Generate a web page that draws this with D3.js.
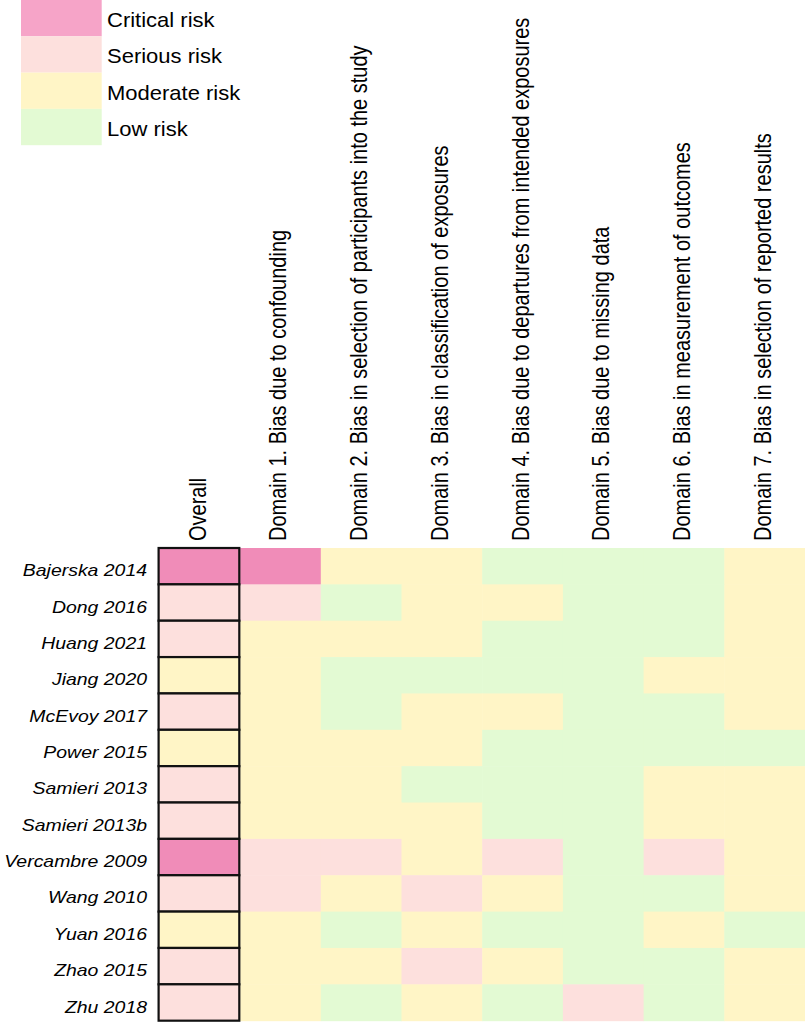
<!DOCTYPE html>
<html>
<head>
<meta charset="utf-8">
<script src="https://cdn.jsdelivr.net/npm/d3@7"></script>
<style>
html,body{margin:0;padding:0;background:#fff;}
svg{display:block;}
text{font-family:"Liberation Sans",Arial,sans-serif;fill:#000;}
</style>
</head>
<body>
<svg id="chart" width="805" height="1022"></svg>
<script>
const studies = ["Bajerska 2014","Dong 2016","Huang 2021","Jiang 2020","McEvoy 2017","Power 2015","Samieri 2013","Samieri 2013b","Vercambre 2009","Wang 2010","Yuan 2016","Zhao 2015","Zhu 2018"];
const domains = ["Overall",
  "Domain 1. Bias due to confounding",
  "Domain 2. Bias in selection of participants into the study",
  "Domain 3. Bias in classification of exposures",
  "Domain 4. Bias due to departures from intended exposures",
  "Domain 5. Bias due to missing data",
  "Domain 6. Bias in measurement of outcomes",
  "Domain 7. Bias in selection of reported results"];
const levels = ["Critical risk","Serious risk","Moderate risk","Low risk"];
// C = critical, S = serious, M = moderate, L = low ; order: Overall, D1..D7
const ratings = [
  ["C","C","M","M","L","L","L","M"],
  ["S","S","L","M","M","L","L","M"],
  ["S","M","M","M","L","L","L","M"],
  ["M","M","L","L","L","L","M","M"],
  ["S","M","L","M","M","L","L","M"],
  ["M","M","M","M","L","L","L","L"],
  ["S","M","M","L","L","L","M","M"],
  ["S","M","M","M","L","L","M","M"],
  ["C","S","S","M","S","L","S","M"],
  ["S","S","M","S","M","L","L","M"],
  ["M","M","L","M","L","L","M","L"],
  ["S","M","M","S","M","L","L","M"],
  ["S","M","L","M","L","S","L","M"]
];
const codes = ["C","S","M","L"];
const cellColors = ["#f08cb8","#fde0dd","#fff5c6","#e3fad3"];
const legendColors = ["#f6a4c8","#fde0dd","#fff5c6","#e3fad3"];

const svg = d3.select("#chart");
const colW = 80.7, rowH = 36.36;
const x = d3.scaleBand().domain(domains).range([805 - colW*domains.length, 805]).padding(0);
const y = d3.scaleBand().domain(studies).range([548, 548 + rowH*studies.length]).padding(0);
const color = d3.scaleOrdinal().domain(codes).range(cellColors);
const lcolor = d3.scaleOrdinal().domain(levels).range(legendColors);
const ly = d3.scaleBand().domain(levels).range([0, 36.3*levels.length]);

const cells = [];
ratings.forEach((r,i)=>r.forEach((v,j)=>cells.push({s:studies[i],d:domains[j],v})));

svg.append("g").selectAll("rect").data(cells.filter(c=>c.d!=="Overall")).join("rect")
  .attr("x",d=>x(d.d)).attr("y",d=>y(d.s))
  .attr("width",x.bandwidth()+0.5).attr("height",y.bandwidth()+0.5)
  .attr("fill",d=>color(d.v));

svg.append("g").selectAll("rect").data(cells.filter(c=>c.d==="Overall")).join("rect")
  .attr("x",d=>x(d.d)-0.8).attr("y",d=>y(d.s))
  .attr("width",x.bandwidth()).attr("height",y.bandwidth())
  .attr("fill",d=>color(d.v)).attr("stroke","#111").attr("stroke-width",2.2);

// row labels
svg.append("g").selectAll("text").data(studies).join("text")
  .attr("transform",d=>`translate(147,${y(d)+y.bandwidth()/2+10}) scale(1.2,1)`)
  .attr("text-anchor","end").attr("font-style","italic").attr("font-size",16.2)
  .text(d=>d);

// column labels
svg.append("g").selectAll("text").data(domains).join("text")
  .attr("transform",d=>`translate(${x(d)+x.bandwidth()/2+6},541) rotate(-90) scale(1,1.2)`)
  .attr("text-anchor","start").attr("font-size",20)
  .text(d=>d);

// legend
const lg = svg.append("g");
lg.selectAll("rect").data(levels).join("rect")
  .attr("x",21).attr("y",d=>ly(d)).attr("width",80.7).attr("height",ly.bandwidth())
  .attr("fill",d=>lcolor(d));
lg.selectAll("text").data(levels).join("text")
  .attr("transform",d=>`translate(107,${ly(d)+ly.bandwidth()/2+9}) scale(1.1,1)`)
  .attr("font-size",20).text(d=>d);
</script>
</body>
</html>
